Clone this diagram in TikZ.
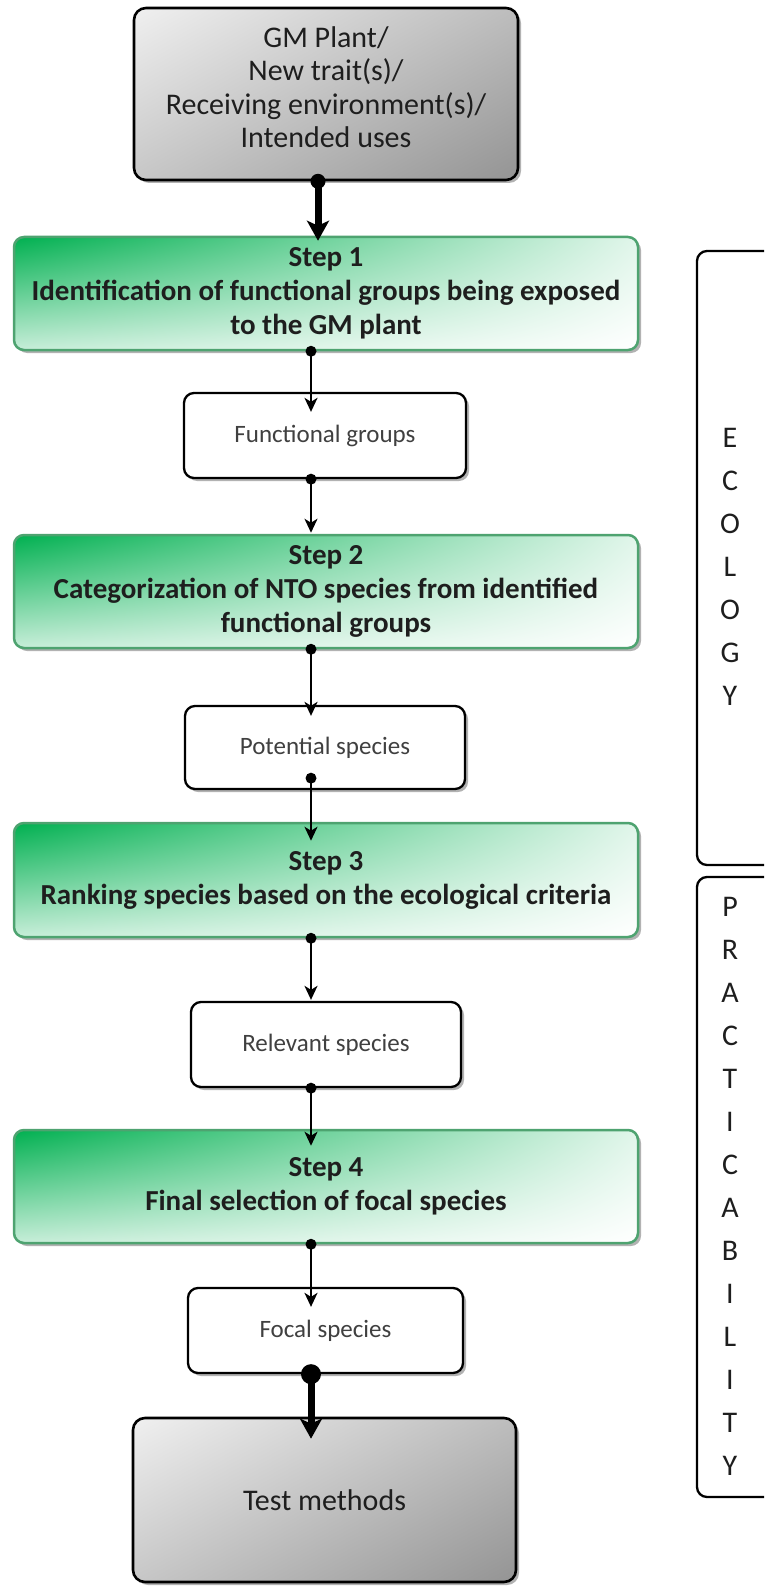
\documentclass[tikz,border=0pt]{standalone}
\usepackage{fontspec}
\setmainfont{Carlito}
\usetikzlibrary{arrows.meta,shadows,shadings,calc}
\definecolor{stepgreen}{RGB}{0,176,80}
\definecolor{stepborder}{RGB}{78,163,112}
\definecolor{boxtext}{RGB}{64,64,64}
\definecolor{darktext}{RGB}{30,30,30}
\begin{document}
\begin{tikzpicture}[x=1pt,y=-1pt,
  myshadow/.style={drop shadow={shadow xshift=3pt,shadow yshift=-3pt,fill=black,opacity=0.3}},
  graybox/.style={draw=black, line width=2.6pt, rounded corners=12pt,
    upper left=black!6, upper right=black!26, lower left=black!22, lower right=black!42,
    myshadow, inner sep=0pt, align=center, text=darktext,
    font=\fontsize{30}{33.5}\selectfont},
  graytext/.style={inner sep=0pt, align=center, text=darktext, font=\fontsize{30}{33.5}\selectfont},
  stepbox/.style={draw=stepborder, line width=2.5pt, rounded corners=10pt,
    upper left=stepgreen, upper right=stepgreen!12, lower left=stepgreen!22, lower right=white,
    myshadow, minimum width=624pt, minimum height=113pt, inner sep=0pt, align=center,
    text=darktext, font=\bfseries\fontsize{29}{34}\selectfont},
  whitebox/.style={draw=black, line width=2.3pt, rounded corners=10pt, fill=white,
    myshadow, inner sep=0pt, align=center, text=boxtext,
    font=\fontsize{25}{29}\selectfont},
  sidebox/.style={draw=black, line width=2.3pt, rounded corners=10pt, fill=white, inner sep=0pt},
  sideletters/.style={align=center, inner sep=0pt, text=darktext, font=\fontsize{30}{43}\selectfont},
  dot/.style={circle, fill=black, inner sep=0pt, minimum size=#1},
  thinconn/.style={draw=black, line width=2.2pt, -{Stealth[length=14pt,width=13pt,inset=4pt]}},
  thickconn/.style={draw=black, line width=7pt, -{Stealth[length=20pt,width=22pt,inset=5pt]}}
]
\useasboundingbox (0,0) rectangle (764,1586);
\clip (0,0) rectangle (764,1586);
\coordinate (ax) at (311,0);
\coordinate (axt) at (318,0);

% main column
\node[graybox, minimum width=384pt, minimum height=172pt] (top) at (326,94) {};
\node[graytext] (toptext) at (326,87)
  {GM Plant/\\New trait(s)/\\Receiving environment(s)/\\Intended uses};
\node[stepbox] (s1) at (326,293.5)
  {Step 1\\Identification of functional groups being exposed\\to the GM plant};
\node[whitebox, minimum width=282pt, minimum height=85pt] (fg) at (325,435.5) {Functional groups};
\node[stepbox] (s2) at (326,591.5)
  {Step 2\\Categorization of NTO species from identified\\functional groups};
\node[whitebox, minimum width=280pt, minimum height=83pt] (ps) at (325,747.5) {Potential species};
\node[stepbox, minimum height=114pt] (s3) at (326,880)
  {Step 3\\Ranking species based on the ecological criteria};
\node[whitebox, minimum width=270pt, minimum height=85pt] (rs) at (326,1044.5) {Relevant species};
\node[stepbox] (s4) at (326,1186.5)
  {Step 4\\Final selection of focal species};
\node[whitebox, minimum width=275pt, minimum height=85pt] (fs) at (325.5,1330.5) {Focal species};
\node[graybox, minimum width=383pt, minimum height=164pt] (tm) at (324.5,1500) {Test methods};

% side boxes
\node[sidebox, minimum width=103pt, minimum height=614pt] (eco) at (748.5,558) {};
\node[sidebox, minimum width=103pt, minimum height=620pt] (pra) at (748.5,1187) {};
\node[sideletters] (ecot) at (730,567) {E\\C\\O\\L\\O\\G\\Y};
\node[sideletters] (prat) at (730,1186.5) {P\\R\\A\\C\\T\\I\\C\\A\\B\\I\\L\\I\\T\\Y};

% connectors
\draw[thickconn] (top.south -| axt) node[dot=15pt]{} -- ($(s1.north -| axt)+(0,5)$);
\draw[thinconn] (s1.south -| ax) node[dot=11pt]{} -- ($(fg.north -| ax)+(0,20)$);
\draw[thinconn] (fg.south -| ax) node[dot=11pt]{} -- ($(s2.north -| ax)+(0,-1)$);
\draw[thinconn] (s2.south -| ax) node[dot=11pt]{} -- ($(ps.north -| ax)+(0,11)$);
\draw[thinconn] ($(ps.south -| ax)+(0,-12)$) node[dot=11pt]{} -- ($(s3.north -| ax)+(0,19)$);
\draw[thinconn] (s3.south -| ax) node[dot=11pt]{} -- ($(rs.north -| ax)+(0,-1)$);
\draw[thinconn] (rs.south -| ax) node[dot=11pt]{} -- ($(s4.north -| ax)+(0,17)$);
\draw[thinconn] (s4.south -| ax) node[dot=11pt]{} -- ($(fs.north -| ax)+(0,20)$);
\draw[thickconn] (fs.south -| ax) node[dot=20pt]{} -- ($(tm.north -| ax)+(0,22)$);
\end{tikzpicture}
\end{document}
